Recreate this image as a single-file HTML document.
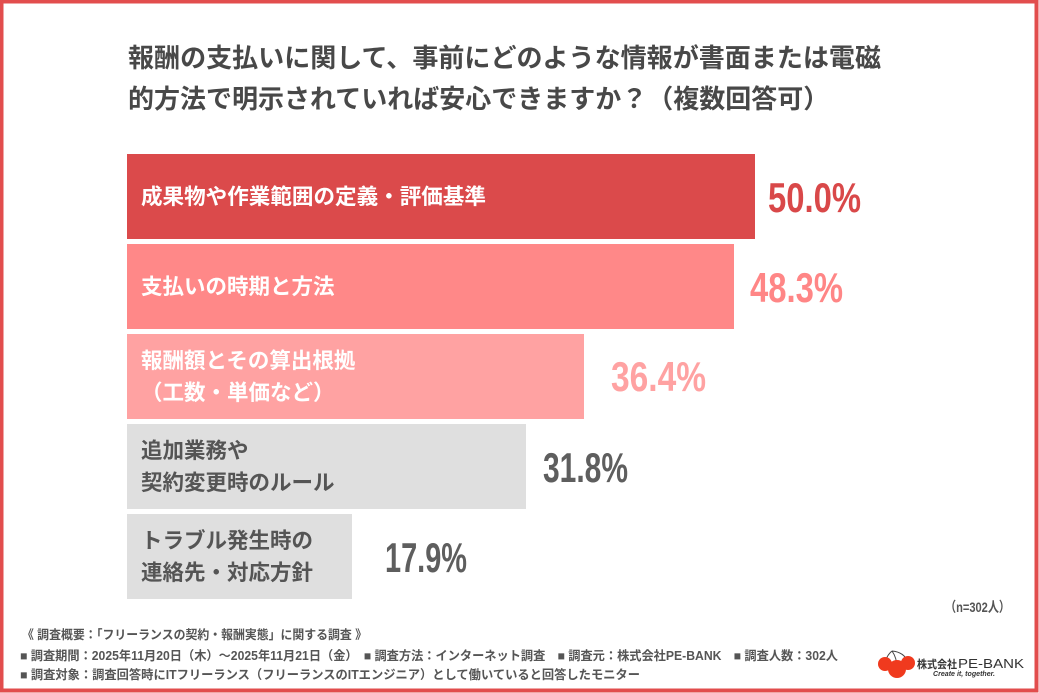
<!DOCTYPE html>
<html><head><meta charset="utf-8"><style>
html,body{margin:0;padding:0;background:#fff;}
svg{display:block;}
</style></head><body>
<svg width="1039" height="693" viewBox="0 0 1039 693" xmlns="http://www.w3.org/2000/svg">
<rect x="0" y="0" width="1039" height="693" fill="#ffffff"/>
<!-- frame -->
<rect x="1.5" y="1.5" width="1035" height="689" fill="none" stroke="#E24D4D" stroke-width="4"/>

<g font-family="'Liberation Sans','Noto Sans CJK JP',sans-serif" font-weight="bold">
<!-- title -->
<text x="128" y="67" font-size="26" fill="#484848" textLength="753" lengthAdjust="spacingAndGlyphs">報酬の支払いに関して、事前にどのような情報が書面または電磁</text>
<text x="128" y="108" font-size="26" fill="#484848">的方法で明示されていれば安心できますか？（複数回答可）</text>

<!-- bars -->
<rect x="127" y="154" width="628" height="85" fill="#DB4A4B"/>
<rect x="127" y="244" width="607" height="85" fill="#FF8888"/>
<rect x="127" y="334" width="457" height="85" fill="#FFA2A2"/>
<rect x="127" y="424" width="399" height="85" fill="#DFDFDF"/>
<rect x="127" y="514" width="225" height="85" fill="#DFDFDF"/>

<!-- bar labels -->
<g font-size="21.5">
<text x="141" y="204" fill="#ffffff" textLength="345" lengthAdjust="spacingAndGlyphs">成果物や作業範囲の定義・評価基準</text>
<text x="141" y="294" fill="#ffffff">支払いの時期と方法</text>
<text x="141" y="368" fill="#ffffff">報酬額とその算出根拠</text>
<text x="141" y="400" fill="#ffffff">（工数・単価など）</text>
<text x="141" y="458" fill="#555555">追加業務や</text>
<text x="141" y="490" fill="#555555">契約変更時のルール</text>
<text x="141" y="548" fill="#555555">トラブル発生時の</text>
<text x="141" y="580" fill="#555555">連絡先・対応方針</text>
</g>

<!-- values -->
<g font-size="42">
<text x="768" y="212" fill="#D94849" textLength="93" lengthAdjust="spacingAndGlyphs">50.0%</text>
<text x="750" y="302" fill="#FF8686" textLength="93" lengthAdjust="spacingAndGlyphs">48.3%</text>
<text x="611" y="391" fill="#FFA2A2" textLength="95" lengthAdjust="spacingAndGlyphs">36.4%</text>
<text x="543" y="482" fill="#5E5E5E" textLength="85" lengthAdjust="spacingAndGlyphs">31.8%</text>
<text x="385" y="572" fill="#5E5E5E" textLength="82" lengthAdjust="spacingAndGlyphs">17.9%</text>
</g>

<!-- n -->
<text x="945" y="612" font-size="14" fill="#555555" textLength="65" lengthAdjust="spacingAndGlyphs">（n=302人）</text>

<!-- footer -->
<g font-size="12.5" fill="#555555">
<text x="22" y="639" textLength="345" lengthAdjust="spacingAndGlyphs">《 調査概要：「フリーランスの契約・報酬実態」に関する調査 》</text>
<text x="20" y="660" textLength="818" lengthAdjust="spacingAndGlyphs">■ 調査期間：2025年11月20日（木）〜2025年11月21日（金）　■ 調査方法：インターネット調査　■ 調査元：株式会社PE-BANK　■ 調査人数：302人</text>
<text x="20" y="679" textLength="620" lengthAdjust="spacingAndGlyphs">■ 調査対象：調査回答時にITフリーランス（フリーランスのITエンジニア）として働いていると回答したモニター</text>
</g>
</g>

<!-- logo -->
<g>
<path d="M892 651 Q886 656 885 664 M892 651 Q897 658 897 668 M892 651 Q904 652 908 662" stroke="#444" stroke-width="1" fill="none"/>
<circle cx="885" cy="664" r="7" fill="#F03A1E"/>
<circle cx="908" cy="663" r="7" fill="#F03A1E"/>
<circle cx="897" cy="669" r="9" fill="#F03A1E"/>
<text x="917" y="668" font-family="'Liberation Sans','Noto Sans CJK JP',sans-serif" font-weight="bold" font-size="11" fill="#333" textLength="40" lengthAdjust="spacingAndGlyphs">株式会社</text>
<text x="958" y="668" font-family="'Liberation Sans',sans-serif" font-size="13" fill="#333" textLength="66" lengthAdjust="spacingAndGlyphs">PE-BANK</text>
<text x="933" y="676" font-family="'Liberation Sans',sans-serif" font-style="italic" font-weight="bold" font-size="7" fill="#333" textLength="62" lengthAdjust="spacingAndGlyphs">Create it, together.</text>
</g>
</svg>
</body></html>
